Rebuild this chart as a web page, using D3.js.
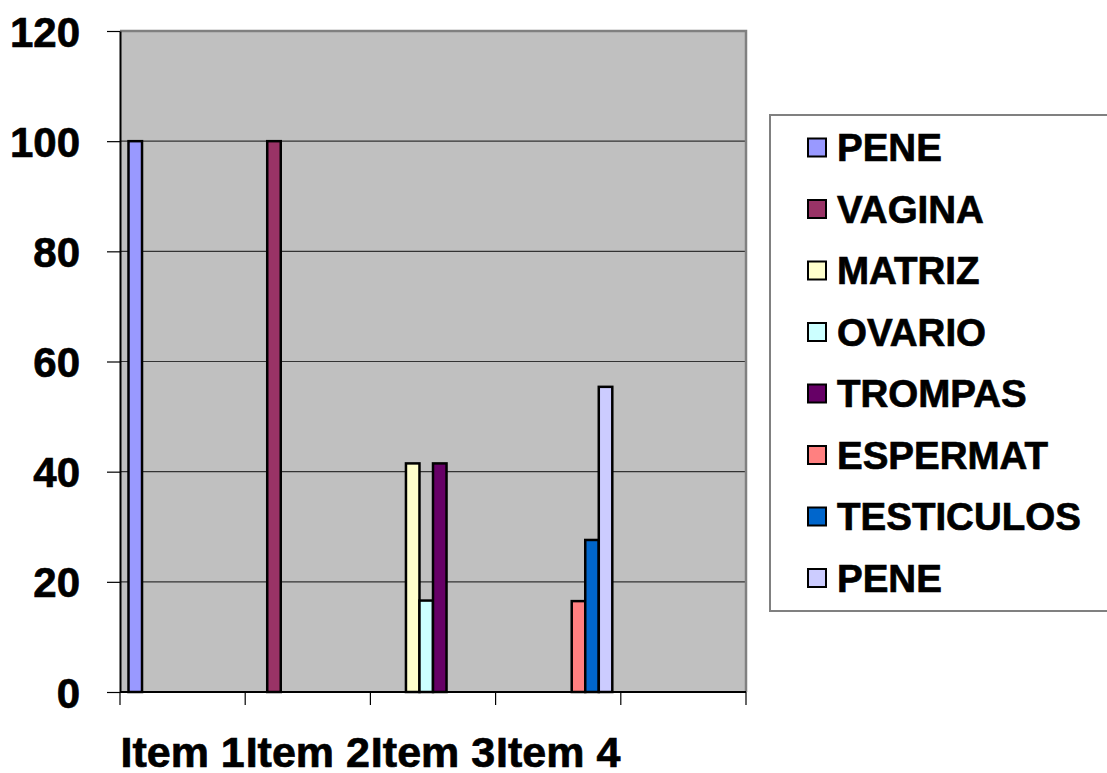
<!DOCTYPE html>
<html>
<head>
<meta charset="utf-8">
<script src="https://cdn.jsdelivr.net/npm/d3@7"></script>
<style>
  body { margin: 0; background: #fff; }
  text { font-family: "Liberation Sans", Arial, sans-serif; font-weight: bold; fill: #000;
         stroke: #000; stroke-width: 0.7px; }
</style>
</head>
<body>
<div id="main_plot"></div>
<script>
categories = ["Item 1", "Item 2", "Item 3", "Item 4", ""];
seriesNames = ["PENE", "VAGINA", "MATRIZ", "OVARIO", "TROMPAS", "ESPERMAT", "TESTICULOS", "PENE"];
seriesColors = ["#9999FF", "#993366", "#FFFFCC", "#CCFFFF", "#660066", "#FF8080", "#0066CC", "#CCCCFF"];
peneValues       = [100, null, null, null, null];
vaginaValues     = [null, 100, null, null, null];
matrizValues     = [null, null, 41.5, null, null];
ovarioValues     = [null, null, 16.6, null, null];
trompasValues    = [null, null, 41.5, null, null];
espermatValues   = [null, null, null, 16.5, null];
testiculosValues = [null, null, null, 27.6, null];
pene2Values      = [null, null, null, 55.4, null];
yTicks = [0, 20, 40, 60, 80, 100, 120];

seriesValues = [peneValues, vaginaValues, matrizValues, ovarioValues,
                trompasValues, espermatValues, testiculosValues, pene2Values];

margin = { top: 31, right: 361, bottom: 81, left: 120 },
  width = 1107 - margin.left - margin.right,
  height = 773 - margin.top - margin.bottom;

function makePlot() {
  let svg = d3.select("#main_plot").append("svg")
    .attr("width", 1107)
    .attr("height", 773);

  let g = svg.append("g")
    .attr("transform", "translate(" + margin.left + "," + margin.top + ")");

  let x0 = d3.scaleBand()
    .domain(d3.range(categories.length))
    .range([0, width]);

  let x1 = d3.scaleBand()
    .domain(d3.range(seriesNames.length))
    .range([8.5, x0.bandwidth() - 8.5]);

  let y = d3.scaleLinear()
    .domain([0, 120])
    .range([height, 0]);

  // plot background
  g.append("rect")
    .attr("width", width)
    .attr("height", height)
    .attr("fill", "#C0C0C0");

  // gridlines
  g.selectAll(".grid")
    .data(yTicks.filter(t => t > 0 && t < 120))
    .enter().append("line")
    .attr("x1", 0)
    .attr("x2", width)
    .attr("y1", d => y(d))
    .attr("y2", d => y(d))
    .attr("stroke", "#333")
    .attr("stroke-width", 1.2);

  // top and right border
  g.append("path")
    .attr("d", "M0," + y(120) + "H" + width + "V" + height)
    .attr("fill", "none")
    .attr("stroke", "#808080")
    .attr("stroke-width", 2.5);

  // bars
  let series = g.selectAll(".series")
    .data(seriesValues)
    .enter().append("g")
    .attr("class", "series");

  series.selectAll("rect")
    .data((vals, si) => vals.map((v, ci) => ({ v: v, ci: ci, si: si })).filter(d => d.v != null))
    .enter().append("rect")
    .attr("x", d => x0(d.ci) + x1(d.si))
    .attr("width", x1.bandwidth())
    .attr("y", d => y(d.v))
    .attr("height", d => y(0) - y(d.v))
    .attr("fill", d => seriesColors[d.si])
    .attr("stroke", "#000")
    .attr("stroke-width", 2.5);

  // y axis
  let yAxis = d3.axisLeft(y)
    .tickValues(yTicks)
    .tickSize(13)
    .tickPadding(27)
    .tickSizeOuter(0);

  let ya = g.append("g").call(yAxis);
  ya.select(".domain").attr("stroke", "#000").attr("stroke-width", 2);
  ya.selectAll(".tick line").attr("stroke", "#000").attr("stroke-width", 1.2);
  ya.selectAll("text")
    .style("font-size", "42px")
    .attr("dy", "0.36em");

  // x axis
  let xa = g.append("g").attr("transform", "translate(0," + height + ")");
  xa.append("line")
    .attr("x1", 0).attr("x2", width)
    .attr("stroke", "#000").attr("stroke-width", 2);

  xa.selectAll(".xtick")
    .data(d3.range(categories.length + 1))
    .enter().append("line")
    .attr("x1", d => d * x0.step())
    .attr("x2", d => d * x0.step())
    .attr("y1", 0)
    .attr("y2", 13)
    .attr("stroke", "#000")
    .attr("stroke-width", 1.2);

  xa.selectAll(".xlabel")
    .data(categories)
    .enter().append("text")
    .attr("x", (d, i) => x0(i) + x0.bandwidth() / 2)
    .attr("y", 75)
    .attr("text-anchor", "middle")
    .style("font-size", "43px")
    .text(d => d);

  // legend
  let lg = svg.append("g").attr("transform", "translate(770,115)");
  lg.append("rect")
    .attr("width", 345)
    .attr("height", 496)
    .attr("fill", "#fff")
    .attr("stroke", "#808080")
    .attr("stroke-width", 2);

  let item = lg.selectAll(".legend")
    .data(seriesNames)
    .enter().append("g")
    .attr("class", "legend")
    .attr("transform", (d, i) => "translate(0," + (33 + i * 61.5) + ")");

  item.append("rect")
    .attr("x", 38)
    .attr("y", -9.5)
    .attr("width", 18)
    .attr("height", 18)
    .attr("fill", (d, i) => seriesColors[i])
    .attr("stroke", "#000")
    .attr("stroke-width", 2);

  item.append("text")
    .attr("x", 67)
    .attr("y", 13)
    .style("font-size", "38.5px")
    .text(d => d);
}

makePlot();
</script>
</body>
</html>
